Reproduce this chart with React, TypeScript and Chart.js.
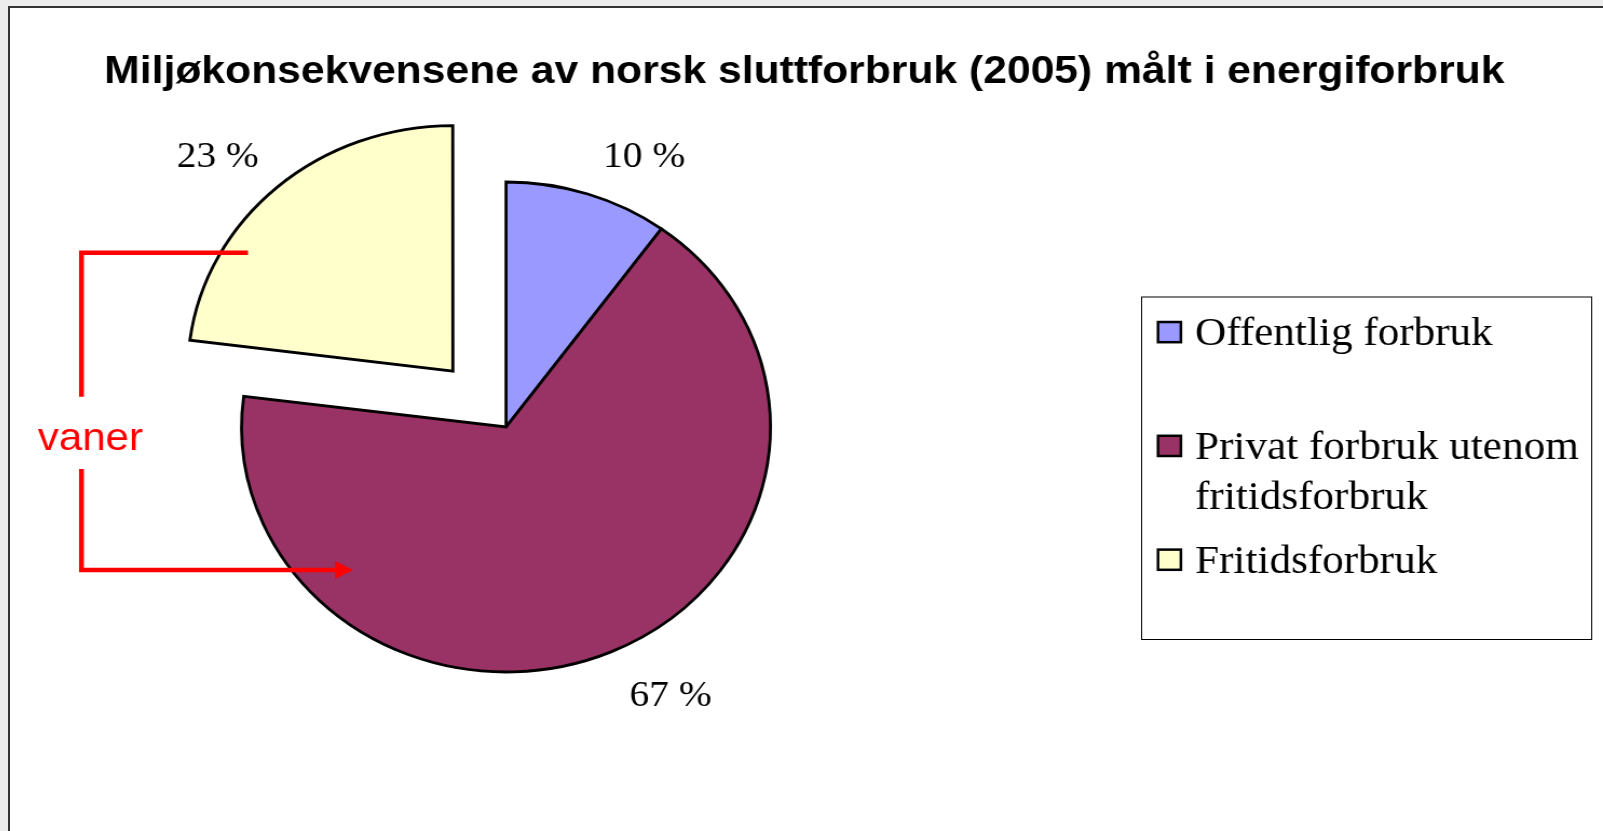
import React, { useEffect, useRef } from "react";
import { Chart, registerables } from "chart.js";

Chart.register(...registerables);

// ---------- data ----------
const chartTitle = "Miljøkonsekvensene av norsk sluttforbruk (2005) målt i energiforbruk";
const categories: (string | string[])[] = [
  "Offentlig forbruk",
  ["Privat forbruk utenom", "fritidsforbruk"],
  "Fritidsforbruk",
];
const shares = [10, 67, 23];
const sliceColors = ["#9999FF", "#993366", "#FFFFCC"];
const explodeOffsets = [0, 0, 298];
const annotationText = "vaner";

// ---------- layout (canvas backing space, stretched horizontally by CSS) ----------
const CSS_W = 1593;
const CSS_H = 823;
const BACK_W = 1476;

const SERIF = "'Liberation Serif', 'Times New Roman', serif";
const SANS = "'Liberation Sans', Arial, sans-serif";

const overlayPlugin = {
  id: "overlay",
  afterDraw(chart: any) {
    const ctx: CanvasRenderingContext2D = chart.ctx;
    ctx.save();

    // title
    ctx.fillStyle = "#000";
    ctx.font = `bold 39.5px ${SANS}`;
    ctx.textAlign = "center";
    ctx.textBaseline = "alphabetic";
    ctx.fillText(chartTitle, chart.width / 2 - 2, 75);

    // percentage labels
    const meta = chart.getDatasetMeta(0);
    const values: number[] = chart.data.datasets[0].data;
    const total = values.reduce((a, b) => a + b, 0);
    ctx.font = `36.5px ${SERIF}`;
    meta.data.forEach((arc: any, i: number) => {
      const p = arc.getProps(["x", "y", "startAngle", "endAngle", "outerRadius"], true);
      const mid = (p.startAngle + p.endAngle) / 2;
      const off = (arc.options.offset || 0) / 4;
      const cx = p.x + Math.cos(mid) * off;
      const cy = p.y + Math.sin(mid) * off;
      const r = p.outerRadius + 33;
      const ax = cx + Math.cos(mid) * r + 4;
      const ay = cy + Math.sin(mid) * r;
      ctx.textAlign = Math.cos(mid) >= 0 ? "left" : "right";
      const by = Math.sin(mid) < 0 ? ay + 4 : ay + 24;
      ctx.fillText(`${Math.round((values[i] / total) * 100)} %`, ax, by);
    });

    // legend box
    const bx = 1048, by0 = 288.5, bw = 417, bh = 342.5;
    ctx.strokeStyle = "#000";
    ctx.lineWidth = 1;
    ctx.strokeRect(bx + 0.5, by0 + 0.5, bw, bh);
    ctx.font = `40px ${SERIF}`;
    ctx.textAlign = "left";
    const firstBase = 337, rowStep = 113.8, lineStep = 50;
    const colors: string[] = chart.data.datasets[0].backgroundColor;
    (chart.data.labels as (string | string[])[]).forEach((lab, i) => {
      const base = firstBase + i * rowStep;
      ctx.fillStyle = colors[i];
      ctx.fillRect(1063.7, base - 23, 21.2, 20.2);
      ctx.strokeStyle = "#000";
      ctx.lineWidth = 2.5;
      ctx.strokeRect(1063.7, base - 23, 21.2, 20.2);
      ctx.fillStyle = "#000";
      const lines = Array.isArray(lab) ? lab : [lab];
      lines.forEach((ln, j) => ctx.fillText(ln, 1098, base + j * lineStep));
    });

    // red "vaner" annotation
    ctx.strokeStyle = "#FF0000";
    ctx.fillStyle = "#FF0000";
    ctx.lineWidth = 4.5;
    ctx.lineJoin = "miter";
    ctx.lineCap = "butt";
    ctx.beginPath();
    ctx.moveTo(220.5, 244.7);
    ctx.lineTo(66.2, 244.7);
    ctx.lineTo(66.2, 388.7);
    ctx.stroke();
    ctx.beginPath();
    ctx.moveTo(66.2, 461);
    ctx.lineTo(66.2, 562);
    ctx.lineTo(302, 562);
    ctx.stroke();
    ctx.beginPath();
    ctx.moveTo(317.8, 562);
    ctx.lineTo(301.2, 553);
    ctx.lineTo(301.2, 571);
    ctx.closePath();
    ctx.fill();
    ctx.font = `39px ${SANS}`;
    ctx.textAlign = "center";
    ctx.fillText(annotationText, 74.5, 442);

    ctx.restore();
  },
};

function PieChart() {
  const ref = useRef<HTMLCanvasElement | null>(null);
  useEffect(() => {
    if (!ref.current) return;
    const chart = new Chart(ref.current, {
      type: "pie",
      data: {
        labels: categories as any,
        datasets: [
          {
            data: shares,
            backgroundColor: sliceColors,
            borderColor: "#000000",
            borderWidth: 2.8,
            borderJoinStyle: "miter",
            offset: explodeOffsets,
            clip: false,
          } as any,
        ],
      },
      options: {
        responsive: false,
        animation: false,
        events: [],
        radius: 245,
        layout: { padding: { left: 0, right: 556.8, top: 15, bottom: 0 } },
        plugins: {
          legend: { display: false },
          tooltip: { enabled: false },
          title: { display: false },
        },
      } as any,
      plugins: [overlayPlugin],
    });
    return () => chart.destroy();
  }, []);
  return (
    <canvas
      ref={ref}
      width={BACK_W}
      height={CSS_H}
      style={{ display: "block", width: `${CSS_W}px`, height: `${CSS_H}px` }}
    />
  );
}

export default function App() {
  return (
    <div
      style={{
        position: "fixed",
        left: 0,
        top: 0,
        width: 1603,
        height: 831,
        background: "#ececec",
        overflow: "hidden",
      }}
    >
      <div
        style={{
          position: "absolute",
          left: 8,
          top: 6,
          width: 1595,
          height: 825,
          boxSizing: "border-box",
          borderLeft: "2px solid #333",
          borderTop: "2px solid #333",
          background: "#fff",
        }}
      >
        <div style={{ position: "absolute", left: 0, top: 0 }}>
          <PieChart />
        </div>
      </div>
    </div>
  );
}
